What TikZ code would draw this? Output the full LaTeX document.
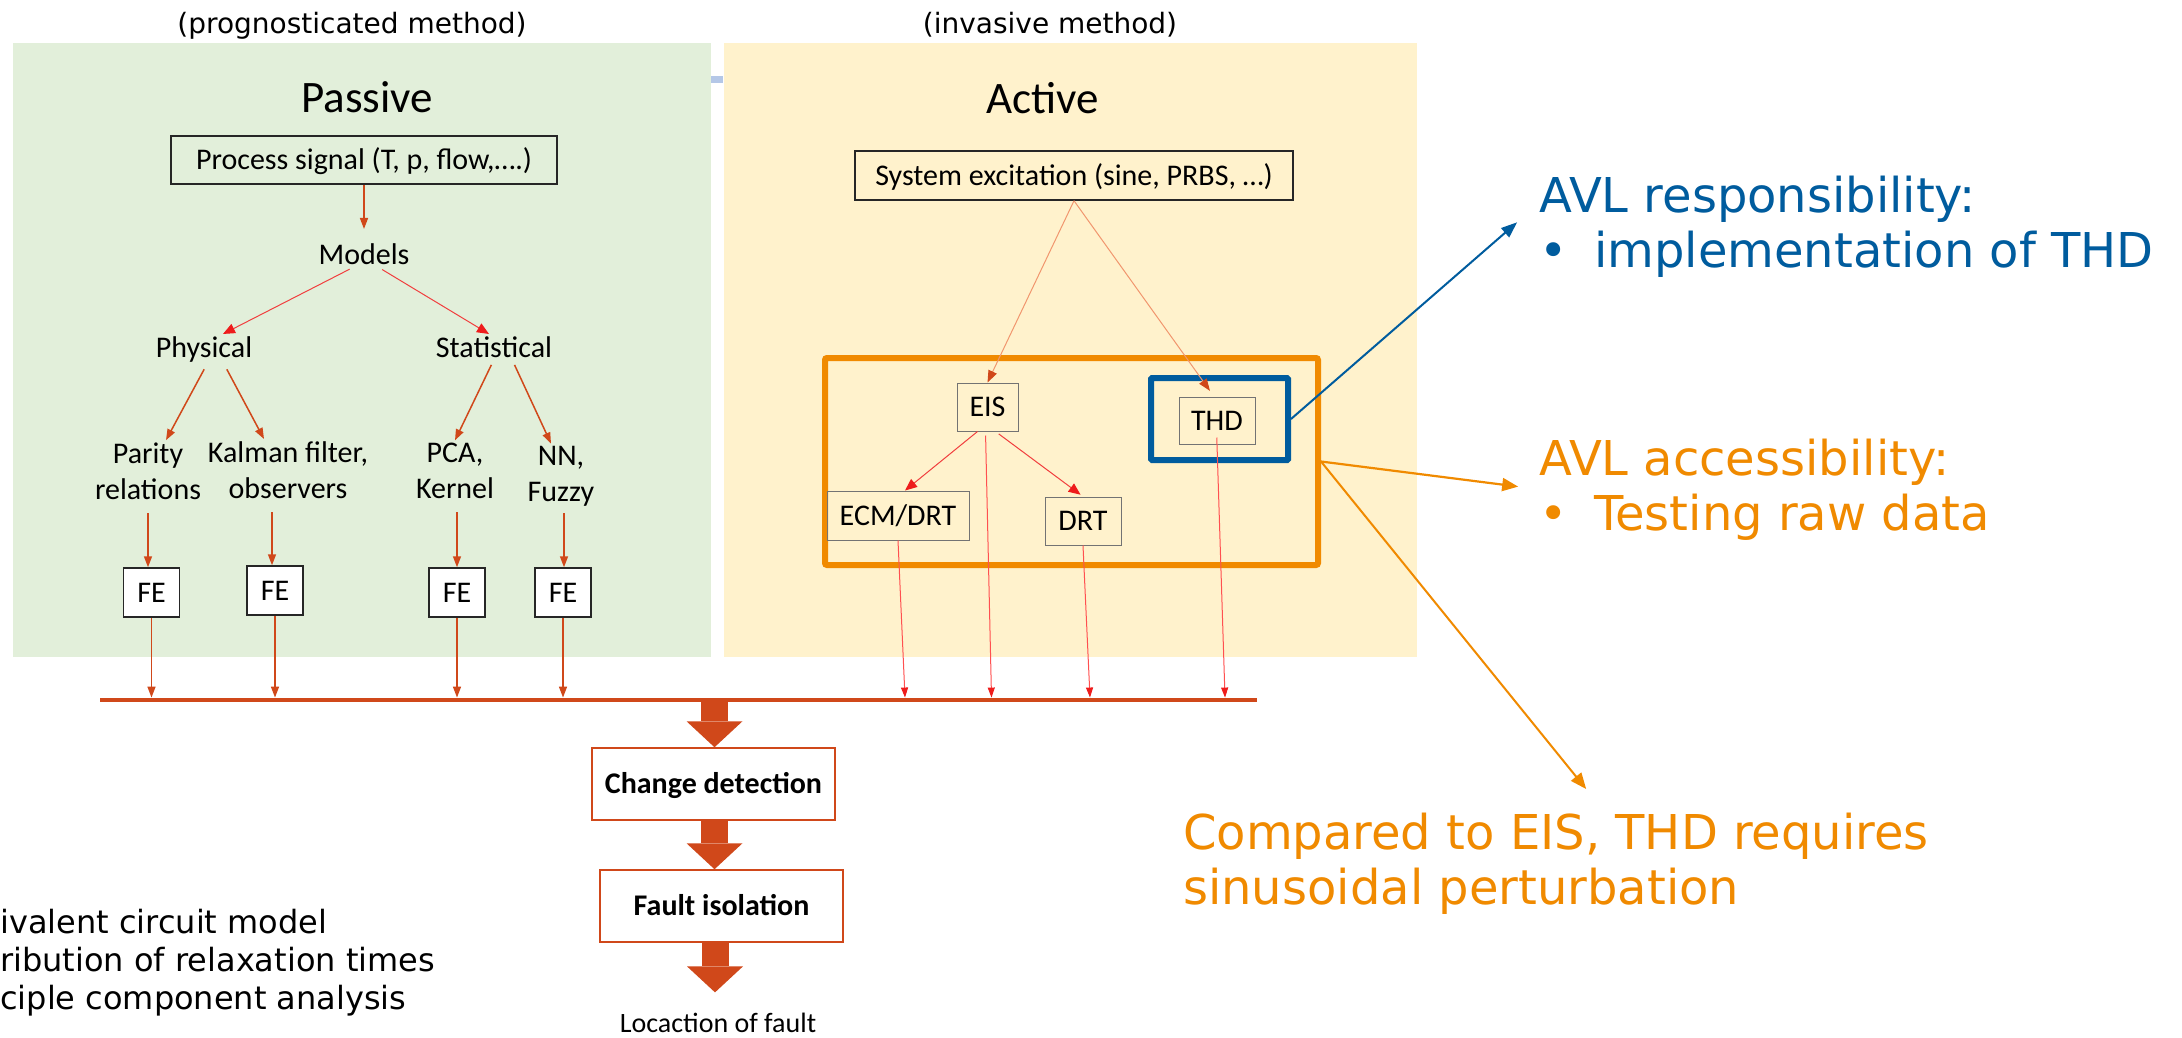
\documentclass[tikz,border=0pt]{standalone}
\usepackage{fontspec}
\setmainfont{Carlito}
\newfontfamily\verdanafont{DejaVu Sans}
\usepackage{tikz}
\usetikzlibrary{arrows.meta, positioning, calc}
\definecolor{passiveGreen}{RGB}{226, 239, 218}
\definecolor{activeYellow}{RGB}{255, 242, 204}
\definecolor{avlOrange}{RGB}{240, 138, 0}
\definecolor{avlBlue}{RGB}{0, 92, 158}
\definecolor{flowRed}{RGB}{208, 72, 26}
\definecolor{lineRed}{RGB}{255, 80, 80}
\definecolor{tipRed}{RGB}{238, 28, 28}
\definecolor{exciteLine}{RGB}{241, 150, 110}
\definecolor{markBlue}{RGB}{180, 199, 231}

\begin{document}
\begin{tikzpicture}[x=1pt, y=-1pt,
    body/.style={font=\fontsize{30}{36}\selectfont, inner sep=2pt, anchor=base},
    head/.style={font=\fontsize{45}{54}\selectfont, inner sep=0pt, anchor=base},
    note/.style={font=\verdanafont\fontsize{28}{34}\selectfont, inner sep=0pt, anchor=base},
    legend/.style={font=\verdanafont\fontsize{32}{38}\selectfont, inner sep=0pt, anchor=base west},
    callout/.style={font=\verdanafont\fontsize{48}{55}\selectfont, inner sep=0pt, align=left, anchor=base west},
    sigbox/.style={draw=black!85, line width=1.5pt, inner sep=0pt, text height=27pt, text depth=7.5pt, font=\fontsize{30}{36}\selectfont},
    febox/.style={sigbox, fill=white, minimum width=56pt, minimum height=49pt},
    methbox/.style={draw=black!55, line width=1pt, inner sep=0pt, text height=27pt, text depth=7.5pt, font=\fontsize{30}{36}\selectfont, minimum height=48pt},
    stepbox/.style={draw=flowRed, fill=white, line width=1.5pt, inner sep=0pt, minimum width=243pt, minimum height=72pt, text height=27pt, text depth=7.5pt, font=\bfseries\fontsize{30}{36}\selectfont},
    arr/.style={-{Triangle[length=11pt, width=8pt]}, line width=1.5pt, color=flowRed},
    redarr/.style={-{Triangle[length=12pt, width=10pt, color=tipRed]}, line width=1pt, color=tipRed!85},
    excarr/.style={-{Triangle[length=12pt, width=9pt, color=flowRed]}, line width=1pt, color=exciteLine},
    downarr/.style={-{Triangle[length=10pt, width=7pt, color=tipRed]}, line width=1pt, color=lineRed},
    bigarr/.style={-{Triangle[length=26pt, width=56pt, line width=0pt]}, line width=27pt, color=flowRed},
    blueArr/.style={-{Triangle[length=16pt, width=12pt]}, line width=2pt, color=avlBlue},
    orangeArr/.style={-{Triangle[length=16pt, width=13pt]}, line width=2.2pt, color=avlOrange}
]
    \useasboundingbox (0,0) rectangle (2182,1037);
    \fill[white] (0,0) rectangle (2182,1037);

    % Panels
    \fill[passiveGreen] (13,43) rectangle (711,657);
    \fill[activeYellow] (724,43) rectangle (1417,657);
    \fill[markBlue] (711,76) rectangle (723,83);

    \node[note] (progno) at (352,33) {(prognosticated method)};
    \node[note] (invasive) at (1050,33) {(invasive method)};
    \node[head] (passive) at (367,112) {Passive};
    \node[head] (active) at (1043,113) {Active};

    % Passive tree
    \node[sigbox, minimum width=386pt, minimum height=48pt] (procsig) at (364,160) {Process signal (T, p, flow,….)};
    \node[body] (models) at (364,264) {Models};
    \node[body] (physical) at (204,357) {Physical};
    \node[body] (statistical) at (494,357) {Statistical};
    \node[body, align=center] (parity) at (148,499) {Parity\\relations};
    \node[body, align=center] (kalman) at (288,498) {Kalman filter,\\observers};
    \node[body, align=center] (pca) at (455,498) {PCA,\\Kernel};
    \node[body, align=center] (nn) at (561,501) {NN,\\Fuzzy};

    \node[febox] (fe1) at (151.5,592.5) {FE};
    \node[febox] (fe2) at (275,590.5) {FE};
    \node[febox] (fe3) at (457,592.5) {FE};
    \node[febox] (fe4) at (563,592.5) {FE};

    % Active tree
    \node[sigbox, minimum width=438pt, minimum height=49pt] (sysexc) at (1074,175.5) {System excitation (sine, PRBS, …)};
    \node[draw=avlOrange, line width=6pt, rounded corners=2pt, minimum width=493pt, minimum height=207pt, inner sep=0pt] (evalframe) at (1071.5,461.5) {};
    \node[draw=avlBlue, line width=6pt, rounded corners=1pt, minimum width=137pt, minimum height=82pt, inner sep=0pt] (thdframe) at (1219.5,419) {};
    \node[methbox, minimum width=61pt] (eis) at (987.5,407) {EIS};
    \node[methbox, minimum width=76pt, minimum height=47pt] (thd) at (1217,420.5) {THD};
    \node[methbox, minimum width=142pt, minimum height=49pt] (ecm) at (898,515.5) {ECM/DRT};
    \node[methbox, minimum width=76pt] (drt) at (1083,521) {DRT};

    % Collecting line and detection chain
    \node[fill=flowRed, minimum width=1157pt, minimum height=4.5pt, inner sep=0pt] (bus) at (678.5,700) {};
    \node[stepbox] (change) at (713.5,784) {Change detection};
    \node[stepbox] (isolate) at (721.5,906) {Fault isolation};
    \node[body, font=\fontsize{28}{34}\selectfont] (location) at (718,1032) {Locaction of fault};

    % Left notes
    \node[legend] (ecmnote) at (0,933) {ivalent circuit model};
    \node[legend] (drtnote) at (0,971) {ribution of relaxation times};
    \node[legend] (pcanote) at (0,1009) {ciple component analysis};

    % Callouts
    \node[callout, text=avlBlue] (resp) at (1539,267) {AVL responsibility:\\\makebox[55pt][l]{•}implementation of THD};
    \node[callout, text=avlOrange] (access) at (1539,530) {AVL accessibility:\\\makebox[55pt][l]{•}Testing raw data};
    \node[callout, text=avlOrange] (compare) at (1183,904) {Compared to EIS, THD requires\\sinusoidal perturbation};

    % Arrows: passive
    \draw[arr, shorten >=12pt] (procsig.south) -- (models.north);
    \draw[redarr, shorten <=6pt] ([xshift=-9pt]models.south) -- ([xshift=19pt]physical.north);
    \draw[redarr, shorten <=6pt] ([xshift=13pt]models.south) -- ([xshift=-5pt]statistical.north);
    \draw[arr, shorten <=6pt] ([xshift=3pt]physical.south) -- ([xshift=18pt]parity.north);
    \draw[arr, shorten <=6pt] ([xshift=20pt]physical.south) -- ([xshift=-24pt]kalman.north);
    \draw[arr, shorten <=6pt] (statistical.south) -- (pca.north);
    \draw[arr, shorten <=6pt] ([xshift=18pt]statistical.south) -- ([xshift=-10pt]nn.north);
    \draw[arr, shorten <=12pt] (parity.south) -- (parity.south |- fe1.north);
    \draw[arr, shorten <=12pt] ([xshift=-16pt]kalman.south) -- ([xshift=-16pt]kalman.south |- fe2.north);
    \draw[arr, shorten <=12pt] ([xshift=2pt]pca.south) -- ([xshift=2pt]pca.south |- fe3.north);
    \draw[arr, shorten <=5pt] ([xshift=3pt]nn.south) -- ([xshift=3pt]nn.south |- fe4.north);
    \draw[arr] (fe1.south) -- (fe1.south |- bus.north);
    \draw[arr] (fe2.south) -- (fe2.south |- bus.north);
    \draw[arr] (fe3.south) -- (fe3.south |- bus.north);
    \draw[arr] (fe4.south) -- (fe4.south |- bus.north);

    % Arrows: active
    \draw[excarr] (sysexc.south) -- (eis.north);
    \draw[excarr, shorten >=7pt] (sysexc.south) -- ([xshift=-3pt]thd.north);
    \draw[redarr] ([xshift=-10pt]eis.south) -- ([xshift=7pt]ecm.north);
    \draw[redarr, shorten <=4pt, shorten >=3pt] ([xshift=8pt]eis.south) -- (drt.north);
    \draw[downarr] (ecm.south) -- ([xshift=7pt]ecm.south |- bus.north);
    \draw[downarr, shorten <=4pt] ([xshift=-2pt]eis.south) -- ([xshift=4pt]eis.south |- bus.north);
    \draw[downarr] (drt.south) -- ([xshift=7pt]drt.south |- bus.north);
    \draw[downarr, shorten <=-7pt] (thd.south) -- ([xshift=8pt]thd.south |- bus.north);

    % Detection chain
    \draw[bigarr] ([xshift=1pt]change.north |- bus.south) -- ([xshift=1pt]change.north);
    \draw[bigarr] ([xshift=1pt]change.south) -- ([xshift=1pt]change.south |- isolate.north);
    \draw[bigarr, shorten >=18pt] ([xshift=-6.5pt]isolate.south) -- ([xshift=-6.5pt]isolate.south |- location.north);

    % Callout arrows
    \draw[blueArr, shorten >=29pt] (thdframe.east) -- ([yshift=23pt]resp.west);
    \draw[orangeArr, shorten >=21pt] (evalframe.east) -- (access.west);
    \draw[orangeArr, line width=2pt, shorten >=30pt] (evalframe.east) -- ([xshift=49pt]compare.north);
\end{tikzpicture}
\end{document}
